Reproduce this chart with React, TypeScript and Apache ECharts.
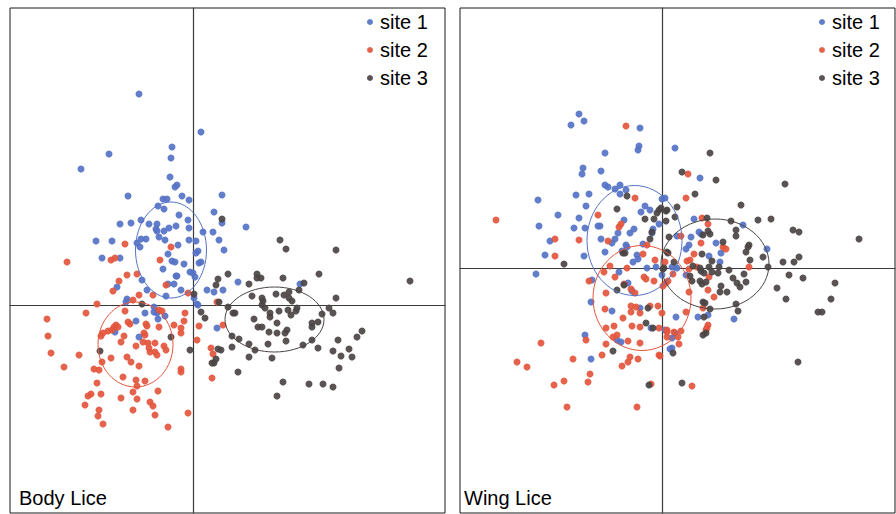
import React, { useEffect, useRef } from "react";
import * as echarts from "echarts";

const siteNames = ["site 1", "site 2", "site 3"];
const siteColors = ["#5572c4", "#e3563d", "#4b4444"];
const panelTitles = ["Body Lice", "Wing Lice"];

// Body lice scores [axis 1, axis 2]
const bodySite1 = [
  [-54,211],[8,173],[-21,158],[-22,147],[-84,151],[-112,136],[-23,128],[-16,120],[-18,118],[-65,109],
  [-11,109],[-30,106],[-26,106],[-4,105],[-35,99],[-29,96],[-14,90],[-5,85],[-73,81],[-62,82],
  [-52,85],[-44,81],[-36,81],[-37,76],[-36,74],[-29,74],[-24,77],[-17,79],[-4,77],[-34,68],
  [-28,65],[-97,64],[-81,64],[-56,62],[-52,66],[-47,66],[-53,58],[-15,60],[-4,65],[3,64],
  [-91,47],[-73,47],[-25,51],[-21,44],[-18,43],[-9,41],[3,52],[5,54],[6,42],[-30,36],
  [-3,33],[0,32],[2,28],[-17,29],[-16,29],[-25,21],[-19,21],[-51,25],[-76,18],[-46,15],
  [-12,15],[-27,9],[-66,6],[-67,3],[1,7],[4,1],[-39,-2],[29,110],[21,93],[29,82],
  [53,78],[10,73],[20,73],[26,65],[31,55],[8,43],[45,23],[14,15],[21,13],[30,15],
  [107,21],[24,-23],[-48,-8],[-39,-7],[-36,-8],[-35,-14],[-28,-11],[-57,-16],[-78,-27],[-54,-32],
  [5,0]
];
const bodySite2 = [
  [-126,43],[-68,61],[-22,58],[-82,45],[-78,47],[-33,45],[-56,31],[-66,30],[-74,24],[-80,14],
  [-27,20],[-54,10],[-40,10],[-5,12],[-96,1],[-60,5],[24,3],[6,-21],[30,-20],[4,-35],
  [18,-43],[20,-49],[19,-73],[-107,-8],[-146,-14],[-68,-6],[-65,-17],[-63,-19],[-77,-20],[-75,-22],
  [-79,-22],[-85,-26],[-81,-25],[-90,-28],[-92,-31],[-47,-19],[-46,-21],[-34,-22],[-34,-5],[-31,-6],
  [-8,-8],[-19,-20],[-9,-16],[-12,-23],[-12,-28],[-49,-28],[-48,-30],[-69,-31],[-145,-31],[-72,-37],
  [-50,-37],[-45,-38],[-38,-38],[-57,-41],[-44,-43],[-43,-47],[-29,-41],[-27,-45],[-38,-47],[-36,-50],
  [-142,-48],[-114,-50],[-82,-53],[-66,-52],[-62,-57],[-91,-57],[-54,-61],[-129,-62],[-99,-64],[-94,-65],
  [-12,-64],[-12,-67],[-70,-72],[-57,-75],[-48,-76],[-96,-78],[-56,-81],[-102,-89],[-105,-91],[-92,-89],
  [-60,-87],[-35,-86],[-72,-93],[-56,-94],[-43,-97],[-40,-101],[-108,-100],[-94,-105],[-95,-111],[-60,-105],
  [-38,-110],[-5,-108],[-90,-119],[-25,-122]
];
const bodySite3 = [
  [1,11],[-51,1],[29,86],[87,65],[93,56],[143,55],[35,31],[25,26],[23,20],[64,31],
  [68,27],[64,27],[90,27],[126,31],[56,21],[111,22],[217,24],[59,9],[83,11],[91,10],
  [96,13],[69,7],[70,4],[96,7],[99,4],[106,15],[143,7],[26,3],[35,-2],[42,-8],
  [40,-8],[69,0],[72,-3],[77,-8],[77,-12],[86,-6],[95,-5],[98,-10],[104,-3],[103,-6],
  [61,-14],[84,-18],[65,-22],[69,-22],[84,-28],[76,-27],[92,-28],[94,-25],[119,-18],[125,-17],
  [119,-22],[129,-9],[136,-3],[140,-8],[8,-7],[12,-13],[39,-31],[46,-34],[56,-39],[75,-39],
  [93,-36],[110,-40],[119,-35],[39,-42],[62,-45],[125,-43],[145,-35],[164,-32],[169,-26],[140,-46],
  [156,-44],[148,-51],[159,-52],[56,-52],[79,-53],[25,-44],[28,-45],[23,-54],[21,-58],[19,-58],
  [146,-63],[45,-67],[90,-77],[116,-79],[130,-79],[140,-82],[84,-91],[-3,-45],[-93,-46],[-22,-32]
];

// Wing lice scores [axis 1, axis 2]
const wingSite1 = [
  [-83,154],[-91,143],[-78,147],[-22,140],[-23,122],[-24,118],[-57,115],[-79,100],[-80,94],[-61,97],
  [-57,83],[-54,81],[-47,79],[-42,83],[-36,78],[-42,74],[-124,68],[-86,73],[-73,74],[-76,62],
  [-104,53],[-83,50],[-64,42],[-62,42],[-77,40],[-88,40],[-123,42],[-17,62],[-12,58],[-21,56],
  [0,69],[3,70],[-3,44],[-9,39],[-10,35],[-38,48],[-44,35],[-28,39],[-32,35],[-61,29],
  [-47,29],[-50,25],[-36,23],[-35,21],[-40,17],[-19,24],[-57,16],[-112,27],[-117,13],[-78,12],
  [-25,13],[-24,9],[-29,6],[-15,0],[-6,1],[13,120],[38,90],[32,49],[15,32],[29,31],
  [37,36],[39,34],[27,23],[24,19],[54,25],[81,43],[47,12],[59,15],[58,6],[105,19],
  [10,1],[15,0],[24,-7],[14,-49],[36,-49],[46,-47],[72,-51],[3,-62],[13,-65],[10,-70],
  [10,-80],[-126,-6],[-70,-12],[-43,-4],[-34,-15],[0,-7],[-30,-23],[-71,-34],[-50,-43],[-22,-40],
  [-11,-60],[-77,-67],[-45,-72],[-41,-74],[-71,-91],[8,-81]
];
const wingSite2 = [
  [-36,142],[-166,48],[-64,53],[-41,44],[-43,41],[-27,70],[-107,29],[-83,28],[-54,27],[-107,12],
  [-15,23],[-19,14],[-7,8],[3,6],[-52,2],[26,94],[24,70],[40,50],[46,44],[19,32],
  [39,25],[61,21],[64,19],[32,14],[28,8],[25,7],[87,1],[35,1],[27,-1],[11,-6],
  [6,-13],[4,-15],[1,-18],[47,-9],[46,-22],[52,-29],[27,-24],[41,-40],[24,-44],[0,-45],
  [46,-57],[45,-60],[44,-62],[19,-63],[12,-64],[5,-64],[5,-69],[16,-69],[17,-76],[-2,-88],
  [30,-118],[-58,-4],[-47,-9],[-35,0],[-73,-13],[-18,-9],[-16,-11],[-8,-13],[-38,-16],[-31,-21],
  [-27,-25],[-56,-25],[-57,-41],[-31,-38],[-26,-39],[-31,-44],[-22,-45],[-12,-38],[-4,-38],[-39,-50],
  [-56,-60],[-48,-58],[-30,-58],[-22,-59],[-3,-60],[5,-62],[-49,-69],[-45,-67],[-34,-73],[-22,-75],
  [-76,-72],[-56,-76],[-121,-75],[-60,-87],[-32,-89],[-34,-94],[-24,-91],[-3,-87],[-89,-91],[-40,-98],
  [-145,-94],[-135,-99],[-72,-106],[-98,-113],[-74,-114],[-108,-117],[-11,-116],[-95,-139],[-25,-139]
];
const wingSite3 = [
  [-35,72],[-45,59],[-17,49],[-8,49],[-3,58],[-1,60],[-5,55],[4,57],[4,47],[-10,36],
  [-12,29],[7,31],[-39,15],[-37,15],[5,16],[-98,4],[2,0],[48,115],[20,96],[54,88],
  [33,74],[123,84],[15,61],[79,63],[5,58],[13,51],[45,50],[69,47],[96,48],[109,49],
  [131,38],[137,36],[197,29],[74,38],[74,32],[46,37],[48,34],[41,33],[61,26],[87,23],
  [86,21],[84,16],[40,14],[50,7],[47,1],[88,8],[101,11],[137,11],[132,6],[121,6],
  [12,6],[6,15],[57,1],[31,2],[38,0],[67,-2],[106,1],[127,-7],[141,-10],[173,-15],
  [115,-20],[124,-31],[169,-31],[156,-44],[160,-44],[136,-94],[82,-6],[56,-5],[50,-4],[39,-3],
  [42,-5],[71,-10],[75,-15],[78,-19],[84,-14],[38,-13],[40,-16],[44,-14],[59,-18],[58,-24],
  [65,-24],[28,-8],[30,-13],[41,-34],[43,-35],[74,-36],[76,-43],[48,-41],[42,-49],[41,-67],
  [44,-65],[11,-85],[20,-115],[1,-1],[-45,-22],[-38,-17],[-14,-40],[-16,-55],[-9,-60],[-49,-83],
  [-13,-117]
];

// Ellipses per site: [centre x, centre y, radius x, radius y]
const bodyEllipses = [
  [-22, 55, 35.5, 48],
  [-57.5, -39.5, 37.5, 42.5],
  [81.5, -14.5, 49.5, 32.5],
];
const wingEllipses = [
  [-27.5, 27.5, 47.5, 55],
  [-20, -30, 49, 52.5],
  [53, 4, 54, 45],
];

// Axis ranges
const bodyXRange = [-183, 252];
const bodyYRange = [-208, 297];
const wingXRange = [-202, 233];
const wingYRange = [-245, 260];

const FONT = "'Liberation Sans', Arial, Helvetica, sans-serif";

export default function App() {
  const ref = useRef<HTMLDivElement>(null);

  useEffect(() => {
    if (!ref.current) return;
    const chart = echarts.init(ref.current, null, { renderer: "svg" });

    const grids = [
      { left: 10, top: 8, width: 435, height: 505 },
      { left: 460, top: 8, width: 435, height: 505 },
    ].map((g) => ({
      ...g,
      show: true,
      borderColor: "#1a1a1a",
      borderWidth: 1,
      backgroundColor: "#ffffff",
      containLabel: false,
    }));

    const mkX = (range: number[], gi: number) => ({
      type: "value",
      gridIndex: gi,
      min: range[0],
      max: range[1],
      axisLine: { show: true, onZero: true, lineStyle: { color: "#3a3a3a", width: 1.2 } },
      axisTick: { show: false },
      axisLabel: { show: false },
      splitLine: { show: false },
    });

    const xAxes = [mkX(bodyXRange, 0), mkX(wingXRange, 1)];
    const yAxes = [mkX(bodyYRange, 0), mkX(wingYRange, 1)];

    const panels = [
      { sites: [bodySite1, bodySite2, bodySite3], ellipses: bodyEllipses },
      { sites: [wingSite1, wingSite2, wingSite3], ellipses: wingEllipses },
    ];

    const series: any[] = [];
    panels.forEach((p, pi) => {
      series.push({
        type: "custom",
        name: "ellipses" + pi,
        xAxisIndex: pi,
        yAxisIndex: pi,
        silent: true,
        z: 3,
        encode: { x: 0, y: 1 },
        data: p.ellipses,
        renderItem: (params: any, api: any) => {
          const c = api.coord([api.value(0), api.value(1)]);
          const s = api.size([api.value(2), api.value(3)]);
          return {
            type: "ellipse",
            shape: { cx: c[0], cy: c[1], rx: s[0], ry: s[1] },
            style: { fill: "none", stroke: siteColors[params.dataIndex], lineWidth: 1 },
          };
        },
      });
      p.sites.forEach((d, si) => {
        series.push({
          type: "scatter",
          name: siteNames[si],
          xAxisIndex: pi,
          yAxisIndex: pi,
          data: d,
          symbol: "circle",
          symbolSize: 7,
          z: 2,
          itemStyle: { color: siteColors[si], opacity: 0.92 },
        });
      });
    });

    const mkLegend = (left: number) => ({
      left,
      top: 8,
      padding: 0,
      orient: "vertical",
      icon: "circle",
      itemWidth: 6,
      itemHeight: 6,
      itemGap: 0,
      selectedMode: false,
      data: siteNames,
      textStyle: {
        fontFamily: FONT,
        fontSize: 20,
        color: "#000",
        lineHeight: 28,
        padding: [0, 0, 0, 2],
      },
    });

    chart.setOption({
      animation: false,
      backgroundColor: "#ffffff",
      grid: grids,
      xAxis: xAxes,
      yAxis: yAxes,
      legend: [mkLegend(367), mkLegend(819)],
      graphic: panelTitles.map((t, i) => ({
        type: "text",
        left: i === 0 ? 19 : 464,
        top: 488,
        z: 10,
        style: { text: t, font: `20px ${FONT}`, fill: "#000" },
      })),
      series,
    });

    return () => chart.dispose();
  }, []);

  return (
    <div
      ref={ref}
      style={{ position: "fixed", left: 0, top: 0, width: 896, height: 514 }}
    />
  );
}
